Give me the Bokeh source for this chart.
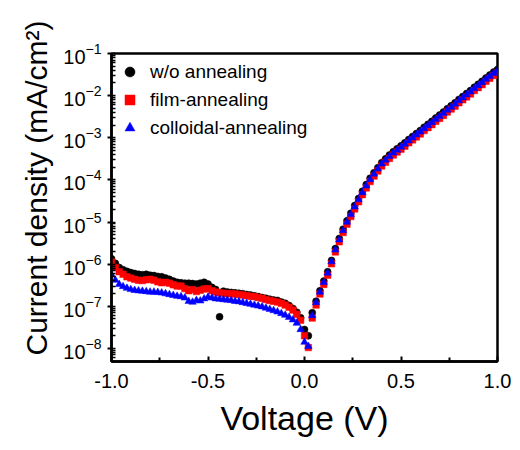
from bokeh.plotting import figure
from bokeh.models import (FixedTicker, LogTicker, Legend, LegendItem, Title,
                          ColumnDataSource, PrintfTickFormatter, Range1d)
from bokeh.embed import file_html
from bokeh.resources import INLINE

# Voltage sweep (V)
voltage = [
    -1.00, -0.98, -0.96, -0.94, -0.92, -0.90, -0.88, -0.86, -0.84, -0.82,
    -0.80, -0.78, -0.76, -0.74, -0.72, -0.70, -0.68, -0.66, -0.64, -0.62,
    -0.60, -0.58, -0.56, -0.54, -0.52, -0.50, -0.48, -0.46, -0.44, -0.42,
    -0.40, -0.38, -0.36, -0.34, -0.32, -0.30, -0.28, -0.26, -0.24, -0.22,
    -0.20, -0.18, -0.16, -0.14, -0.12, -0.10, -0.08, -0.06, -0.04, -0.02,
    0.00, 0.02, 0.04, 0.06, 0.08, 0.10, 0.12, 0.14, 0.16, 0.18,
    0.20, 0.22, 0.24, 0.26, 0.28, 0.30, 0.32, 0.34, 0.36, 0.38,
    0.40, 0.42, 0.44, 0.46, 0.48, 0.50, 0.52, 0.54, 0.56, 0.58,
    0.60, 0.62, 0.64, 0.66, 0.68, 0.70, 0.72, 0.74, 0.76, 0.78,
    0.80, 0.82, 0.84, 0.86, 0.88, 0.90, 0.92, 0.94, 0.96, 0.98,
    1.00,
]

# log10 of current density (mA/cm^2)
log_j_wo = [
    -5.87, -5.98, -6.08, -6.13, -6.17, -6.20, -6.22, -6.24, -6.25, -6.24,
    -6.26, -6.27, -6.29, -6.30, -6.33, -6.36, -6.40, -6.43, -6.44, -6.45,
    -6.45, -6.46, -6.47, -6.45, -6.43, -6.47, -6.55, -6.60, -7.25, -6.64,
    -6.66, -6.67, -6.68, -6.69, -6.70, -6.72, -6.73, -6.75, -6.77, -6.79,
    -6.81, -6.83, -6.85, -6.86, -6.90, -6.93, -6.98, -7.05, -7.14, -7.27,
    -7.55, -7.70, -7.15, -6.88, -6.63, -6.40, -6.18, -5.91, -5.63, -5.39,
    -5.17, -4.97, -4.79, -4.61, -4.44, -4.27, -4.11, -3.96, -3.83, -3.71,
    -3.59, -3.50, -3.41, -3.33, -3.26, -3.19, -3.12, -3.04, -2.97, -2.90,
    -2.83, -2.75, -2.68, -2.61, -2.53, -2.46, -2.39, -2.31, -2.24, -2.17,
    -2.09, -2.02, -1.95, -1.88, -1.80, -1.73, -1.66, -1.58, -1.51, -1.44,
    -1.38,
]

log_j_film = [
    -5.95, -6.08, -6.18, -6.24, -6.30, -6.33, -6.36, -6.38, -6.39, -6.37,
    -6.36, -6.38, -6.42, -6.44, -6.43, -6.45, -6.49, -6.52, -6.52, -6.58,
    -6.63, -6.60, -6.65, -6.62, -6.59, -6.58, -6.63, -6.66, -6.68, -6.69,
    -6.70, -6.70, -6.71, -6.72, -6.73, -6.75, -6.76, -6.77, -6.79, -6.81,
    -6.84, -6.86, -6.88, -6.90, -6.93, -6.97, -7.02, -7.09, -7.19, -7.33,
    -7.70, -7.98, -7.28, -6.97, -6.71, -6.48, -6.26, -5.99, -5.71, -5.47,
    -5.25, -5.05, -4.87, -4.69, -4.52, -4.35, -4.19, -4.04, -3.91, -3.79,
    -3.67, -3.58, -3.49, -3.41, -3.34, -3.27, -3.20, -3.12, -3.05, -2.98,
    -2.91, -2.83, -2.76, -2.69, -2.61, -2.54, -2.47, -2.39, -2.32, -2.25,
    -2.17, -2.10, -2.03, -1.96, -1.88, -1.81, -1.74, -1.66, -1.59, -1.52,
    -1.46,
]

log_j_colloid = [
    -6.25, -6.38, -6.48, -6.53, -6.57, -6.60, -6.62, -6.63, -6.64, -6.65,
    -6.66, -6.66, -6.67, -6.68, -6.70, -6.72, -6.74, -6.76, -6.77, -6.80,
    -6.88, -6.90, -6.86, -6.87, -6.82, -6.78, -6.80, -6.82, -6.83, -6.84,
    -6.85, -6.86, -6.88, -6.89, -6.91, -6.93, -6.95, -6.97, -6.99, -7.01,
    -7.04, -7.07, -7.10, -7.13, -7.17, -7.21, -7.26, -7.32, -7.40, -7.55,
    -7.85, -7.95, -7.22, -6.91, -6.66, -6.43, -6.21, -5.94, -5.66, -5.42,
    -5.20, -5.00, -4.82, -4.64, -4.47, -4.30, -4.14, -3.99, -3.86, -3.74,
    -3.62, -3.53, -3.44, -3.36, -3.29, -3.22, -3.15, -3.07, -3.00, -2.93,
    -2.86, -2.78, -2.71, -2.64, -2.56, -2.49, -2.42, -2.34, -2.27, -2.20,
    -2.12, -2.05, -1.98, -1.91, -1.83, -1.76, -1.69, -1.61, -1.54, -1.47,
    -1.41,
]

series_names = ["w/o annealing", "film-annealing", "colloidal-annealing"]
series_colors = ["#000000", "#ff0000", "#0000ff"]
series_markers = ["circle", "square", "triangle"]
x_ticks = [-1.0, -0.5, 0.0, 0.5, 1.0]
x_minor_ticks = [-0.75, -0.25, 0.25, 0.75]
x_title = "Voltage (V)"
y_title = "Current density (mA/cm²)"

FONT = "Liberation Sans"

p = figure(width=520, height=450, y_axis_type="log",
           x_range=Range1d(-1.0, 1.0), y_range=Range1d(4.9e-9, 0.1),
           output_backend="svg", toolbar_location=None,
           min_border_left=111, min_border_right=23,
           min_border_top=53, min_border_bottom=89)
p.grid.visible = False
p.outline_line_color = "black"
p.outline_line_width = 2.5
p.background_fill_color = "white"
p.border_fill_color = "white"

items = []
for name, logs, col, mk, size in zip(series_names,
                                     [log_j_wo, log_j_film, log_j_colloid],
                                     series_colors, series_markers, [7, 6.5, 7.5]):
    src = ColumnDataSource(dict(v=voltage, j=[10 ** l for l in logs]))
    r = p.scatter("v", "j", source=src, marker=mk, size=size,
                  fill_color=col, line_color=col, line_width=0.5)
    items.append(LegendItem(label=name, renderers=[r]))

legend = Legend(items=items, location="top_left")
legend.border_line_color = None
legend.background_fill_alpha = 0
legend.label_text_font = FONT
legend.label_text_font_size = "19px"
legend.label_text_color = "black"
legend.glyph_width = 25
legend.glyph_height = 25
legend.label_height = 25
legend.spacing = 3
legend.label_standoff = 8
legend.padding = 4
legend.margin = 6
p.add_layout(legend)

# x axis
xa = p.xaxis[0]
xa.ticker = FixedTicker(ticks=x_ticks, minor_ticks=x_minor_ticks)
xa.formatter = PrintfTickFormatter(format="%.1f")
xa.axis_label = x_title
xa.axis_label_text_font = FONT
xa.axis_label_text_font_size = "34px"
xa.axis_label_text_font_style = "normal"
xa.axis_label_text_color = "black"
xa.axis_label_standoff = 8
xa.major_label_text_font = FONT
xa.major_label_text_font_size = "20px"
xa.major_label_text_color = "black"
xa.major_label_standoff = 12
xa.axis_line_width = 2.5
xa.major_tick_in = 5
xa.major_tick_out = 0
xa.minor_tick_in = 4
xa.minor_tick_out = 0
xa.major_tick_line_width = 2
xa.minor_tick_line_width = 2

# y axis
ya = p.yaxis[0]
ya.ticker = LogTicker(num_minor_ticks=10)
ya.major_label_text_font = FONT
ya.major_label_text_font_size = "20px"
ya.major_label_text_color = "black"
ya.major_label_standoff = 6
ya.axis_line_width = 2.5
ya.major_tick_in = 0
ya.major_tick_out = 4
ya.minor_tick_in = 4
ya.minor_tick_out = 0
ya.major_tick_line_width = 2
ya.minor_tick_line_width = 1.5

# y-axis title as a side title so it can sit above the frame centre
p.add_layout(Title(text=y_title, align="left", offset=6, standoff=16,
                   text_font=FONT, text_font_size="30px",
                   text_font_style="normal", text_color="black"), "left")

open("out.html", "w").write(file_html(p, INLINE))
